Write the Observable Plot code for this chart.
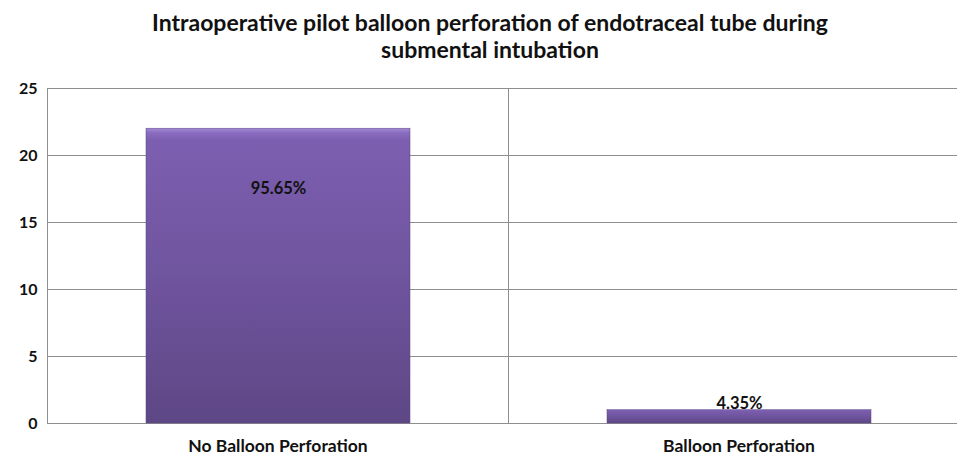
<!DOCTYPE html>
<html>
<head>
<meta charset="utf-8">
<script src="https://cdn.jsdelivr.net/npm/d3@7"></script>
<script src="https://cdn.jsdelivr.net/npm/@observablehq/plot@0.6"></script>
<style>
  html, body { margin: 0; padding: 0; background: #fff; overflow: hidden; }
  #wrap { width: 957px; height: 458px; overflow: hidden; font-family: Lato, "Open Sans", sans-serif; }
  #title { box-sizing: border-box; width: 957px; height: 70px; padding: 9px 0 0 23px; text-align: center;
           font-weight: bold; font-size: 23px; line-height: 27px; color: #111; white-space: nowrap; }
</style>
</head>
<body>
<div id="wrap">
  <div id="title">Intraoperative pilot balloon perforation of endotraceal tube during<br>submental intubation</div>
  <div id="chart"></div>
</div>
<script>
const categories = ["No Balloon Perforation", "Balloon Perforation"];
const counts = [22, 1];
const percentLabels = ["95.65%", "4.35%"];
const yTicks = [0, 5, 10, 15, 20, 25];

const data = categories.map((c, i) => ({category: c, count: counts[i], label: percentLabels[i]}));

const gridColor = "#8e8e8e";
const font = "Lato, 'Open Sans', sans-serif";

const chart = Plot.plot({
  width: 969,
  height: 388,
  marginTop: 18,
  marginBottom: 35,
  marginLeft: 47,
  marginRight: 0,
  style: {maxWidth: "none", overflow: "visible", fontFamily: font, background: "transparent"},
  fx: {domain: categories, padding: 0, label: null, axis: null},
  x: {axis: null, padding: 0.2717},
  y: {domain: [0, 25], axis: null},
  marks: [
    Plot.ruleY(yTicks, {stroke: gridColor, strokeWidth: 1}),
    Plot.frame({anchor: "left", stroke: gridColor, strokeWidth: 1}),
    Plot.barY(data, {fx: "category", x: () => "bar", y: "count", fill: "url(#barGrad)", stroke: "#5a4480", strokeWidth: 0.5}),
    Plot.text(data, {filter: d => d.count > 5, fx: "category", x: () => "bar", y: "count", text: "label",
      dy: 60, fontWeight: "bold", fontSize: 16.5, fill: "#111"}),
    Plot.text(data, {filter: d => d.count <= 5, fx: "category", x: () => "bar", y: "count", text: "label",
      dy: -6, fontWeight: "bold", fontSize: 16.5, fill: "#111"}),
    Plot.axisY({ticks: yTicks, tickSize: 0, tickPadding: 10, label: null, fontWeight: "bold", fontSize: 16, fill: "#111"}),
    Plot.axisFx({anchor: "bottom", tickSize: 0, tickPadding: 16, label: null, fontWeight: "bold", fontSize: 17.5, fill: "#111"})
  ]
});

const svg = d3.select(chart);
const defs = svg.insert("defs", ":first-child");
const g = defs.append("linearGradient").attr("id", "barGrad")
  .attr("x1", 0).attr("y1", 0).attr("x2", 0).attr("y2", 1);
[[0, "#a58bd6"], [0.015, "#8a6dc0"], [0.04, "#7c5fb0"], [0.5, "#6f549e"], [1, "#5e4785"]]
  .forEach(([o, c]) => g.append("stop").attr("offset", o).attr("stop-color", c));

document.getElementById("chart").appendChild(chart);
</script>
</body>
</html>
